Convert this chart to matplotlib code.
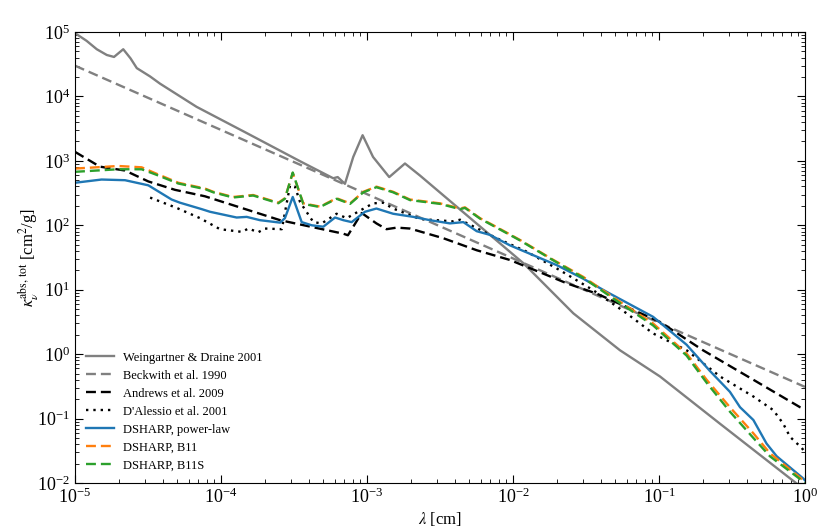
import numpy as np
import matplotlib
matplotlib.use('Agg')
import matplotlib.pyplot as plt

plt.rcParams['font.family'] = ['Liberation Serif', 'DejaVu Serif']
plt.rcParams['mathtext.fontset'] = 'stix'

# Weingartner & Draine 2001
wd_lam = [1e-5, 1.2e-5, 1.41e-5, 1.65e-5, 1.85e-5, 2.14e-5, 2.4e-5, 2.65e-5,
          3.27e-5, 3.82e-5, 6.8e-5, 1.5e-4, 3.5e-4, 5.87e-4, 6.3e-4, 7.06e-4,
          8.05e-4, 9.33e-4, 1.1e-3, 1.42e-3, 1.82e-3, 2.31e-3, 1.18e-2, 2.59e-2,
          5.4e-2, 0.1016, 0.262, 0.877, 1.0]
wd_kap = [9.6e4, 7.3e4, 5.4e4, 4.4e4, 4.1e4, 5.4e4, 3.9e4, 2.75e4,
          2.04e4, 1.58e4, 6.9e3, 2.7e3, 9.8e2, 5.37e2, 5.6e2, 4.4e2,
          1.15e3, 2.5e3, 1.15e3, 5.6e2, 9.1e2, 5.9e2, 2.57e1, 4.3,
          1.15, 0.45, 0.083, 0.0098, 0.0087]

# Beckwith et al. 1990
bw_lam = [1e-5, 1.0]
bw_kap = [3.0e4, 0.31]

# Andrews et al. 2009
an_lam = [1e-5, 1.48e-5, 2.2e-5, 3.18e-5, 4.84e-5, 7.76e-5, 2.54e-4, 6.89e-4,
          7.4e-4, 9.2e-4, 1.16e-3, 1.36e-3, 1.6e-3, 1.97e-3, 3.33e-3, 5.64e-3,
          9.5e-3, 1.61e-2, 2.33e-2, 3.74e-2, 6.0e-2, 0.1016, 0.2, 0.443,
          0.925, 1.0]
an_kap = [1380, 813, 708, 479, 355, 282, 120, 74,
          70, 155, 107, 87, 92, 89, 63, 41,
          29, 17.8, 12.6, 8.7, 5.4, 3.16, 1.15, 0.40,
          0.15, 0.14]

# D'Alessio et al. 2001
da_lam = [3.27e-5, 5.0e-5, 7.18e-5, 9.84e-5, 1.39e-4, 1.54e-4, 1.8e-4, 2.0e-4,
          2.61e-4, 2.97e-4, 3.21e-4, 3.48e-4, 4.29e-4, 4.9e-4, 6.19e-4, 7.26e-4,
          9.0e-4, 1.1e-3, 1.29e-3, 1.51e-3, 2.31e-3, 3.9e-3, 4.34e-3, 7.73e-3,
          1.24e-2, 2.1e-2, 3.55e-2, 6.0e-2, 9.1e-2, 0.1545, 0.262, 0.443,
          0.607, 0.71, 0.79, 0.95, 1.0]
da_kap = [269, 185, 129, 87, 79, 89, 78, 89,
          87, 417, 398, 229, 112, 107, 151, 129,
          170, 219, 224, 182, 125, 115, 122, 63,
          39, 20, 9.8, 4.3, 2.1, 1.15, 0.45, 0.22,
          0.135, 0.083, 0.052, 0.035, 0.03]

# DSHARP, power-law
pl_lam = [1e-5, 1.52e-5, 2.2e-5, 3.18e-5, 4.59e-5, 5.24e-5, 7.38e-5, 8.41e-5,
          1.28e-4, 1.5e-4, 1.85e-4, 2.54e-4, 2.74e-4, 3.1e-4, 3.57e-4, 4.18e-4,
          5.02e-4, 6.04e-4, 6.89e-4, 7.85e-4, 9.68e-4, 1.16e-3, 1.51e-3, 2.08e-3,
          2.7e-3, 3.7e-3, 4.57e-3, 5.64e-3, 6.95e-3, 9.5e-3, 2.0e-2, 3.03e-2,
          4.61e-2, 9.1e-2, 0.1545, 0.223, 0.306, 0.359, 0.443, 0.545,
          0.64, 0.975, 1.0]
pl_kap = [457, 513, 501, 417, 251, 224, 178, 162,
          132, 135, 120, 110, 129, 275, 112, 100,
          95, 132, 120, 112, 162, 182, 151, 135,
          120, 107, 112, 81, 71, 49, 24, 14.8,
          8.7, 3.8, 1.4, 0.55, 0.26, 0.15, 0.095, 0.041,
          0.026, 0.0117, 0.011]

# DSHARP, B11
b11_lam = [1e-5, 1.98e-5, 2.86e-5, 3.53e-5, 5.1e-5, 7.76e-5, 8.85e-5, 1.21e-4,
           1.66e-4, 2.47e-4, 2.74e-4, 3.1e-4, 3.66e-4, 4.76e-4, 6.19e-4, 7.66e-4,
           9.44e-4, 1.16e-3, 1.51e-3, 1.97e-3, 3.16e-3, 4.34e-3, 4.69e-3, 5.94e-3,
           7.33e-3, 1.12e-2, 1.89e-2, 3.03e-2, 5.4e-2, 9.1e-2, 0.1545, 0.212,
           0.306, 0.443, 0.575, 0.975, 1.0]
b11_kap = [759, 832, 794, 646, 457, 372, 331, 275,
           295, 224, 263, 646, 219, 195, 263, 219,
           331, 398, 331, 251, 219, 182, 190, 129,
           100, 59, 29, 15.8, 6.5, 3.0, 1.02, 0.40,
           0.15, 0.059, 0.029, 0.011, 0.0105]

# DSHARP, B11S
b11s_lam = [1e-5, 1.98e-5, 2.86e-5, 3.53e-5, 5.1e-5, 7.76e-5, 8.85e-5, 1.21e-4,
            1.66e-4, 2.47e-4, 2.74e-4, 3.1e-4, 3.66e-4, 4.76e-4, 6.19e-4, 7.66e-4,
            9.44e-4, 1.16e-3, 1.51e-3, 1.97e-3, 3.16e-3, 4.34e-3, 4.69e-3, 5.94e-3,
            7.33e-3, 1.12e-2, 1.89e-2, 3.03e-2, 5.4e-2, 9.1e-2, 0.1545, 0.212,
            0.306, 0.443, 0.575, 0.975, 1.0]
b11s_kap = [676, 741, 740, 620, 445, 365, 325, 270,
            290, 220, 258, 660, 215, 192, 258, 215,
            325, 390, 325, 246, 215, 178, 186, 127,
            98, 58, 28.5, 15.3, 6.2, 2.8, 0.95, 0.36,
            0.128, 0.05, 0.026, 0.0105, 0.0100]

fig = plt.figure(figsize=(8.3, 5.32), dpi=100)
ax = fig.add_axes([75/830, 49/532, 730/830, 451/532])

lw = 1.7
dash = (4.2, 2.1)
dot = (1, 2.1)
ax.loglog(wd_lam, wd_kap, '-', color='gray', lw=lw, label='Weingartner & Draine 2001')
ax.loglog(bw_lam, bw_kap, '--', dashes=dash, color='gray', lw=lw, label='Beckwith et al. 1990')
ax.loglog(an_lam, an_kap, '--', dashes=dash, color='k', lw=lw, label='Andrews et al. 2009')
ax.loglog(da_lam, da_kap, ':', dashes=dot, color='k', lw=lw, label="D'Alessio et al. 2001")
ax.loglog(pl_lam, pl_kap, '-', color='tab:blue', lw=lw, label='DSHARP, power-law')
ax.loglog(b11_lam, b11_kap, '--', dashes=dash, color='tab:orange', lw=lw, label='DSHARP, B11')
ax.loglog(b11s_lam, b11s_kap, '--', dashes=dash, color='tab:green', lw=lw, label='DSHARP, B11S')

ax.set_xlim(1e-5, 1)
ax.set_ylim(1e-2, 1e5)
ax.tick_params(which='both', direction='in', top=True, right=True, labelsize=13)
ax.tick_params(which='major', length=6)
ax.tick_params(which='minor', length=3)
ax.set_xlabel(r'$\lambda$ [cm]', fontsize=12, labelpad=2)
ax.set_ylabel(r'$\kappa_\nu^{\rm abs,\,tot}$ [cm$^2$/g]', fontsize=12)
ax.yaxis.set_label_coords(-0.046, 0.5)

ax.legend(loc='lower left', frameon=False, fontsize=9, handlelength=2.2,
          handletextpad=0.7, labelspacing=0.48)

fig.savefig('out.png', dpi=100)
